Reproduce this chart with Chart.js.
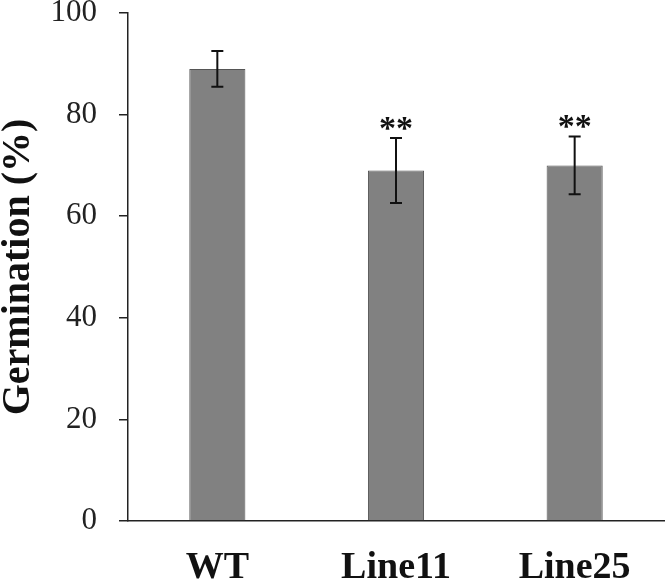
<!DOCTYPE html>
<html>
<head>
<meta charset="utf-8">
<script src="https://cdn.jsdelivr.net/npm/chart.js@4/dist/chart.umd.min.js"></script>
<style>
  html, body { margin: 0; padding: 0; background: #fff; }
  #wrap { width: 668px; height: 584px; }
</style>
</head>
<body>
<div id="wrap"><canvas id="chart" width="668" height="584"></canvas></div>
<script>
/* Germination bar chart */

const lines = ['WT', 'Line11', 'Line25'];
const germination = [89, 69, 70];
const errors = [3.5, 6.4, 5.7];
const marks = ['', '**', '**'];
const yTicks = [0, 20, 40, 60, 80, 100];

const serif = '"Liberation Serif", "Times New Roman", serif';

// error bars and significance stars, placed through the y scale
const errorBarPlugin = {
  id: 'errorBars',
  afterDatasetsDraw(chart) {
    const ctx = chart.ctx;
    const y = chart.scales.y;
    const meta = chart.getDatasetMeta(0);
    ctx.save();
    ctx.strokeStyle = '#111';
    ctx.lineWidth = 2;
    meta.data.forEach((bar, i) => {
      const x = bar.x;
      const top = y.getPixelForValue(germination[i] + errors[i]);
      const bot = y.getPixelForValue(germination[i] - errors[i]);
      ctx.beginPath();
      ctx.moveTo(x, top); ctx.lineTo(x, bot);
      ctx.moveTo(x - 6, top); ctx.lineTo(x + 6, top);
      ctx.moveTo(x - 6, bot); ctx.lineTo(x + 6, bot);
      ctx.stroke();
      if (marks[i]) {
        ctx.fillStyle = '#111';
        ctx.font = 'bold 34px ' + serif;
        ctx.textAlign = 'center';
        ctx.textBaseline = 'middle';
        ctx.fillText(marks[i], x, top - 8);
      }
    });
    ctx.restore();
  }
};

new Chart(document.getElementById('chart').getContext('2d'), {
  type: 'bar',
  data: {
    labels: lines,
    datasets: [{
      data: germination,
      backgroundColor: '#818181',
      borderColor: '#555',
      borderWidth: 1,
      categoryPercentage: 1,
      barPercentage: 0.314,
    }]
  },
  options: {
    responsive: false,
    animation: false,
    layout: { padding: { left: 0, right: 4, top: 13, bottom: 0 } },
    plugins: { legend: { display: false }, tooltip: { enabled: false } },
    scales: {
      x: {
        grid: { display: false },
        border: { display: true, color: '#222', width: 1.5 },
        ticks: {
          color: '#111',
          padding: 16,
          font: { family: serif, size: 38, weight: 'bold' }
        },
        afterFit(scale) {
          scale.height = 63;
          scale.paddingLeft = 0;
          scale.paddingRight = 0;
        }
      },
      y: {
        min: 0,
        max: 100,
        afterBuildTicks(scale) {
          scale.ticks = yTicks.map(v => ({ value: v }));
        },
        grid: {
          drawOnChartArea: false,
          drawTicks: true,
          tickLength: 9,
          color: '#222',
          lineWidth: 1.5
        },
        border: { display: true, color: '#222', width: 1.5 },
        ticks: {
          color: '#222',
          padding: 22,
          font: { family: serif, size: 31 }
        },
        title: {
          display: true,
          text: 'Germination (%)',
          color: '#111',
          padding: 0,
          font: { family: serif, size: 40, weight: 'bold', lineHeight: 0.93 }
        },
        afterFit(scale) {
          scale.width = 128;
          scale.paddingTop = 0;
          scale.paddingBottom = 0;
        }
      }
    }
  },
  plugins: [errorBarPlugin]
});
</script>
</body>
</html>
